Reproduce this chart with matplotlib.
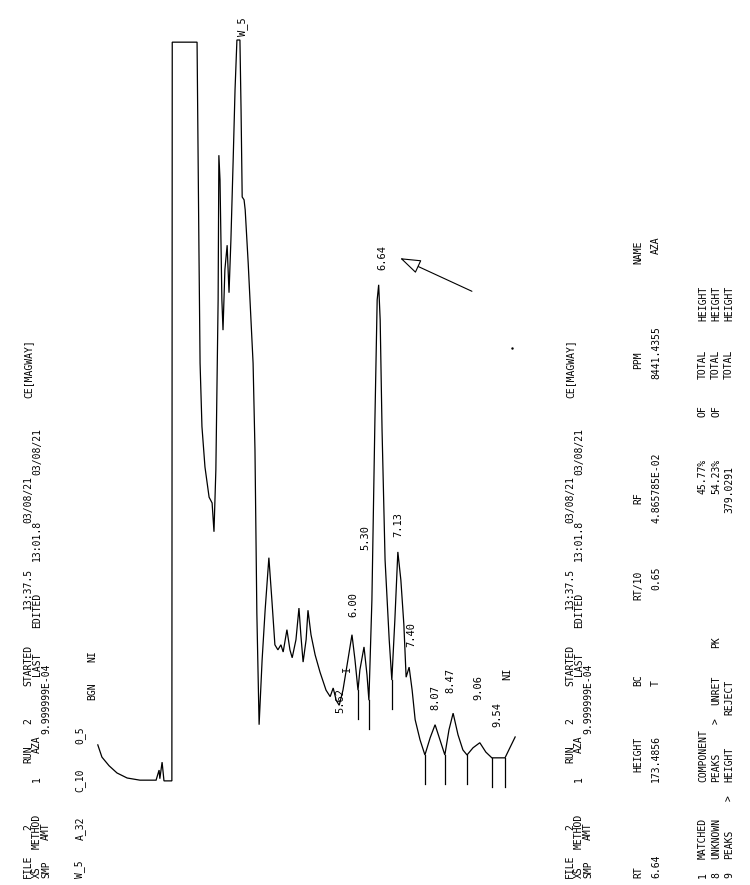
import numpy as np
import matplotlib.pyplot as plt

W, H = 750, 885

# chromatogram trace: time in minutes, response in % of full scale (pen clipped at 100)
time_min = [-0.75, -0.64, -0.45, -0.24, 0.03, 0.37, 0.80, 0.88, 0.90, 0.96, 1.01, 1.22, 1.23,
            1.89, 1.94, 1.97, 2.02, 2.10, 2.21, 2.29, 2.34, 2.39, 2.45, 2.47, 2.50, 2.55, 2.58, 2.63,
            2.69, 2.71, 2.74, 2.79, 2.85, 2.90, 2.95, 3.03, 3.06, 3.09, 3.14, 3.17, 3.25, 3.38, 3.43,
            3.48, 3.54, 3.62, 3.70, 3.80, 3.88, 3.96, 4.04, 4.12, 4.18, 4.28, 4.36, 4.42, 4.52, 4.60,
            4.65, 4.71, 4.79, 4.84, 4.92, 5.03, 5.16, 5.32, 5.43, 5.51, 5.59, 5.67, 5.77, 5.88, 6.01,
            6.09, 6.17, 6.22, 6.33, 6.41, 6.46, 6.54, 6.62, 6.68, 6.72, 6.76, 6.81, 6.89, 7.00, 7.07,
            7.15, 7.23, 7.31, 7.39, 7.45, 7.53, 7.61, 7.69, 7.82, 7.95, 8.09, 8.22, 8.35, 8.48, 8.59,
            8.70, 8.83, 8.96, 9.07, 9.23, 9.41, 9.57, 9.73, 10.08, 10.21, 10.35]
response = [2.1, 0.4, -0.8, -1.8, -2.5, -2.8, -2.8, -1.4, -2.6, -0.3, -2.9, -2.9, 99.7,
            99.7, 70.8, 55.1, 46.3, 40.7, 36.5, 35.7, 31.7, 40.3, 63.9, 84.0, 80.6, 63.9, 59.7, 68.1,
            71.5, 68.8, 64.9, 72.2, 83.3, 93.1, 100.0, 100.0, 90.3, 78.2, 77.8, 76.4, 69.0, 55.1, 43.1,
            20.4, 4.9, 13.9, 20.8, 28.1, 22.2, 16.0, 15.3, 16.0, 15.0, 18.1, 15.3, 14.2, 16.7, 21.1,
            17.4, 13.6, 16.7, 20.8, 17.4, 14.6, 12.2, 9.7, 8.8, 10.0, 8.3, 7.6, 9.7, 13.2, 17.4,
            13.9, 9.7, 12.5, 15.7, 11.8, 8.3, 22.2, 47.2, 63.9, 66.0, 61.1, 45.8, 27.8, 16.7, 11.1,
            19.4, 28.9, 25.0, 18.8, 11.5, 12.9, 9.7, 5.6, 2.8, 0.7, 3.1, 4.9, 2.8, 0.7, 4.2,
            6.5, 3.5, 1.4, 0.7, 1.7, 2.4, 1.1, 0.3, 0.3, 1.7, 3.2]

# integration marks dropped from valleys
marker_min = [6.17, 6.46, 7.07, 7.95, 8.48, 9.07, 9.73, 10.08]

# peak annotations (text, time, response where the label starts)
peak_text = ["W_5", "6.64", "5.30", "6.00", "7.13", "7.40", "5.62", "I", "8.07", "8.47", "9.06", "9.54", "NI"]
peak_min = [3.11, 6.81, 6.36, 6.04, 7.23, 7.58, 5.69, 5.88, 8.24, 8.64, 9.36, 9.89, 10.13]
peak_resp = [100.5, 68.1, 29.2, 19.9, 31.0, 15.7, 6.5, 12.2, 6.9, 9.3, 8.3, 4.6, 11.1]

# printout words and the character column each one starts in
head1 = ["FILE", "2", "RUN", "2", "STARTED", "13:37.5", "03/08/21", "CE[MAGWAY]"]
head1_col = [0, 5, 12, 16, 20, 28, 37, 50]
head2 = ["XS", "METHOD", "1", "AZA", "LAST", "EDITED", "13:01.8", "03/08/21"]
head2_col = [0, 3, 10, 13, 21, 26, 33, 42]
head3 = ["SMP", "AMT", "9.999999E-04"]
head3_col = [0, 4, 15]
params = ["W_5", "A_32", "C_10", "0_5"]
params_col = [0, 4, 9, 14]
table_head = ["RT", "HEIGHT", "BC", "RT/10", "RF", "PPM", "NAME"]
table_head_col = [0, 11, 20, 29, 39, 53, 64]
table_row = ["6.64", "173.4856", "T", "0.65", "4.865785E-02", "8441.4355", "AZA"]
table_row_col = [0, 10, 20, 30, 37, 52, 65]
sum1 = ["1", "MATCHED", "COMPONENT", "45.77%", "OF", "TOTAL", "HEIGHT"]
sum1_col = [0, 2, 10, 40, 48, 52, 58]
sum2 = ["8", "UNKNOWN", "PEAKS", ">", "UNRET", "PK", "54.23%", "OF", "TOTAL", "HEIGHT"]
sum2_col = [0, 2, 10, 16, 18, 24, 40, 48, 52, 58]
sum3 = ["9", "PEAKS", ">", "HEIGHT", "REJECT", "379.0291", "TOTAL", "HEIGHT"]
sum3_col = [0, 2, 8, 10, 17, 38, 52, 58]

fig = plt.figure(figsize=(W / 100, H / 100), dpi=100)
ax = fig.add_axes([0, 0, 1, 1])
ax.axis("off")
# chart paper: 37.6 px per minute, 7.2 px per % response
ax.set_xlim((0 - 126) / 37.6, (W - 126) / 37.6)
ax.set_ylim((760 - H) / 7.2, 760 / 7.2)

ax.plot(time_min, response, color="black", lw=0.9, solid_joinstyle="miter")

for t in marker_min:
    r = np.interp(t, time_min, response)
    ax.plot([t, t], [r, r - 4.0], color="black", lw=0.9)

for s, t, r in zip(peak_text, peak_min, peak_resp):
    ax.text(t, r, s, rotation=90, rotation_mode="anchor", ha="left", va="center",
            fontsize=7.5, family="DejaVu Sans Mono")

ax.annotate("", xy=(7.29, 69.7), xytext=(9.20, 65.1),
            arrowprops=dict(arrowstyle="-|>,head_length=1.3,head_width=0.45",
                            fc="white", ec="black", lw=0.8, shrinkA=0, shrinkB=0))
ax.plot([10.27], [57.2], marker=".", ms=1.5, color="black")


def print_words(px, py, words, cols, pitch=9.6, size=7):
    # printer puts characters on a fixed grid, text runs bottom to top
    for w, c in zip(words, cols):
        y = py - c * pitch
        fig.text(px / W, 1 - y / H, w, rotation=90, rotation_mode="anchor",
                 ha="left", va="center", fontsize=size, family="DejaVu Sans Mono")


header = [(head1, head1_col), (head2, head2_col), (head3, head3_col)]
for i, (words, cols) in enumerate(header):
    print_words(28 + i * 9, 878, words, cols)
    print_words(570 + i * 9, 878, words, cols)
print_words(80, 878, params, params_col)
print_words(92, 700, ["BGN", "NI"], [0, 4])
print_words(638, 878, table_head, table_head_col)
print_words(656, 878, table_row, table_row_col)
for i, (words, cols) in enumerate([(sum1, sum1_col), (sum2, sum2_col), (sum3, sum3_col)]):
    print_words(703 + i * 13, 878, words, cols)

fig.savefig("out.png", dpi=100, facecolor="white")
